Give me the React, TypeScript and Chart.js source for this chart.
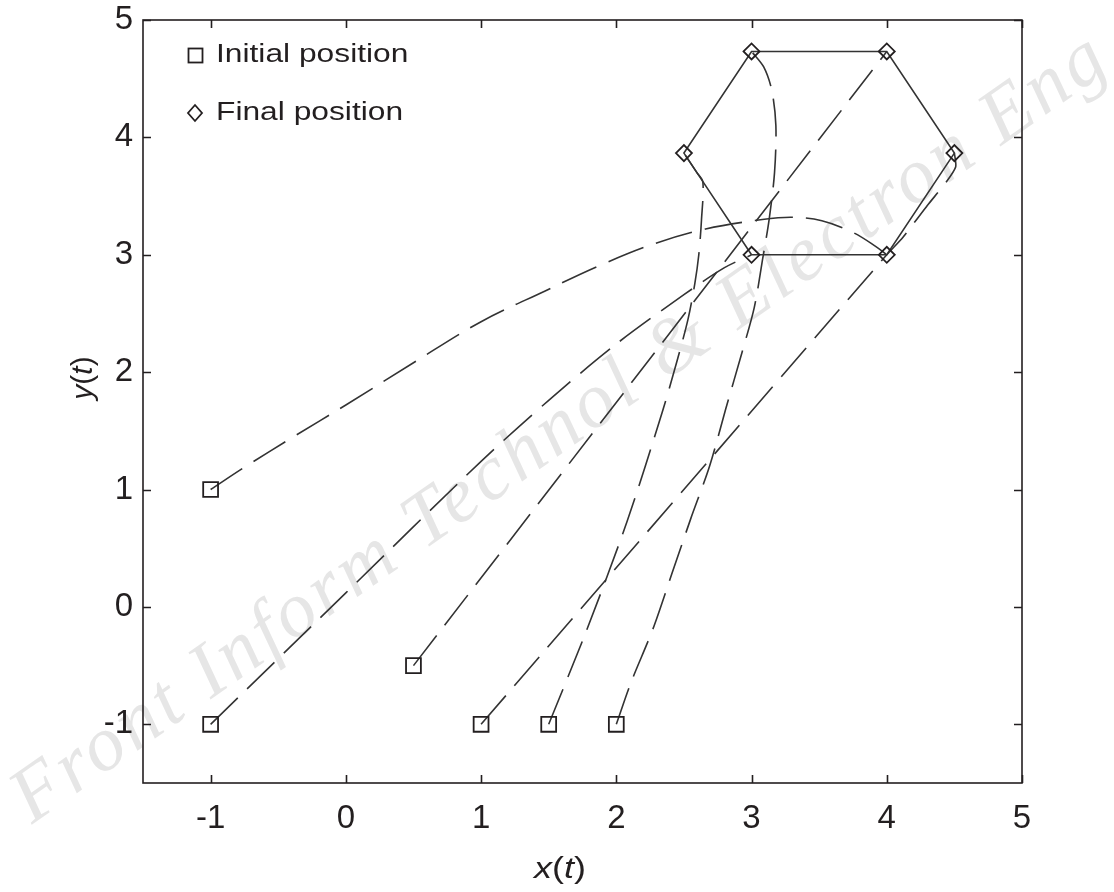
import React, { useEffect, useRef } from 'react';
import { Chart, registerables } from 'chart.js';

Chart.register(...registerables);

const W = 1114;
const H = 892;

// Initial positions of the six agents
const initialX = [-1, -1, 0.5, 1, 1.5, 2];
const initialY = [1, -1, -0.5, -1, -1, -1];

// Final (hexagon) positions
const finalX = [3, 4, 4.5, 4, 3, 2.5];
const finalY = [3, 3, 3.866, 4.732, 4.732, 3.866];

// Hexagon outline (closed)
const hexX = [3, 4, 4.5, 4, 3, 2.5, 3];
const hexY = [3, 3, 3.866, 4.732, 4.732, 3.866, 3];

// Trajectories
const traj1X = [-1, -0.75, -0.38, 0, 0.5, 1, 1.47, 1.86, 2.27, 2.66, 3.08, 3.3, 3.52, 3.75, 3.92, 4];
const traj1Y = [1, 1.19, 1.455, 1.72, 2.08, 2.43, 2.69, 2.9, 3.09, 3.22, 3.3, 3.32, 3.29, 3.19, 3.07, 3];

const traj2X = [-1, 0, 1, 1.5, 2, 2.5, 2.8, 3];
const traj2Y = [-1, 0.12, 1.24, 1.76, 2.24, 2.66, 2.89, 3];

const traj3X = [0.5, 4];
const traj3Y = [-0.5, 4.732];

const traj4X = [1, 4, 4.12, 4.3, 4.44, 4.51, 4.5];
const traj4Y = [-1, 3, 3.15, 3.42, 3.62, 3.75, 3.866];

const traj5X = [1.5, 1.78, 2.08, 2.34, 2.45, 2.53, 2.58, 2.61, 2.63, 2.64, 2.596, 2.5];
const traj5Y = [-1, -0.2, 0.73, 1.66, 2.1, 2.45, 2.75, 3.0, 3.3, 3.62, 3.7, 3.866];

const traj6X = [2, 2.11, 2.27, 2.41, 2.55, 2.69, 2.81, 2.93, 3.02, 3.08, 3.13, 3.17, 3.18, 3.15, 3.09, 3];
const traj6Y = [-1, -0.64, -0.19, 0.28, 0.75, 1.2, 1.69, 2.17, 2.55, 2.95, 3.3, 3.7, 4.1, 4.4, 4.6, 4.732];

const xTicks = [-1, 0, 1, 2, 3, 4, 5];
const yTicks = [-1, 0, 1, 2, 3, 4, 5];

const legendLabels = ['Initial position', 'Final position'];
const watermark = 'Front Inform Technol & Electron Eng';

const pts = (xs: number[], ys: number[]) => xs.map((x, i) => ({ x, y: ys[i] }));

export default function App() {
  const ref = useRef<HTMLCanvasElement>(null);

  useEffect(() => {
    const canvas = ref.current;
    if (!canvas) return;
    const ink = '#231f20';
    const lineCol = '#333333';
    const sans = '"Liberation Sans", Arial, Helvetica, sans-serif';
    const dash = [38, 13];

    const trajs: [number[], number[], number][] = [
      [traj1X, traj1Y, 0.35],
      [traj2X, traj2Y, 0.3],
      [traj3X, traj3Y, 0],
      [traj4X, traj4Y, 0.2],
      [traj5X, traj5Y, 0.3],
      [traj6X, traj6Y, 0.3],
    ];

    const drawMixed = (
      ctx: CanvasRenderingContext2D,
      parts: [string, boolean][],
      cx: number,
      cy: number,
      size: number,
      sx: number
    ) => {
      const fonts = parts.map(([, it]) => `${it ? 'italic ' : ''}${size}px ${sans}`);
      const widths = parts.map(([t], i) => {
        ctx.font = fonts[i];
        return ctx.measureText(t).width;
      });
      const total = widths.reduce((a, b) => a + b, 0);
      ctx.save();
      ctx.translate(cx, cy);
      ctx.scale(sx, 1);
      let x = -total / 2;
      ctx.textBaseline = 'middle';
      ctx.textAlign = 'left';
      parts.forEach(([t], i) => {
        ctx.font = fonts[i];
        ctx.fillText(t, x, 0);
        x += widths[i];
      });
      ctx.restore();
    };

    const overlay = {
      id: 'overlay',
      afterDraw(chart: any) {
        const { ctx, chartArea: a, scales } = chart;
        const xs = scales.x;
        const ys = scales.y;
        ctx.save();
        ctx.strokeStyle = ink;
        ctx.lineWidth = 1.6;
        ctx.setLineDash([]);
        ctx.strokeRect(a.left, a.top, a.right - a.left, a.bottom - a.top);
        const tl = 8;
        ctx.beginPath();
        xTicks.forEach((v) => {
          const p = Math.round(xs.getPixelForValue(v)) + 0.5;
          ctx.moveTo(p, a.bottom);
          ctx.lineTo(p, a.bottom - tl);
          ctx.moveTo(p, a.top);
          ctx.lineTo(p, a.top + tl);
        });
        yTicks.forEach((v) => {
          const p = Math.round(ys.getPixelForValue(v)) + 0.5;
          ctx.moveTo(a.left, p);
          ctx.lineTo(a.left + tl, p);
          ctx.moveTo(a.right, p);
          ctx.lineTo(a.right - tl, p);
        });
        ctx.stroke();

        // axis titles
        ctx.fillStyle = ink;
        drawMixed(ctx, [['x', true], ['(', false], ['t', true], [')', false]], 560, 870, 30, 1.2);
        ctx.save();
        ctx.translate(84, 378);
        ctx.rotate(-Math.PI / 2);
        drawMixed(ctx, [['y', true], ['(', false], ['t', true], [')', false]], 0, 0, 30, 1);
        ctx.restore();

        // legend
        ctx.lineWidth = 1.8;
        ctx.strokeStyle = ink;
        ctx.strokeRect(188.5, 48.5, 14, 14);
        ctx.beginPath();
        ctx.moveTo(195, 105);
        ctx.lineTo(202, 113);
        ctx.lineTo(195, 121);
        ctx.lineTo(188, 113);
        ctx.closePath();
        ctx.stroke();
        ctx.font = `25px ${sans}`;
        ctx.textBaseline = 'middle';
        ctx.textAlign = 'left';
        [55, 113].forEach((yy, i) => {
          ctx.save();
          ctx.translate(216, yy);
          ctx.scale(1.27, 1);
          ctx.fillText(legendLabels[i], 0, 0);
          ctx.restore();
        });
        ctx.restore();
      },
    };

    const datasets: any[] = [];
    datasets.push({
      label: 'Initial position',
      data: pts(initialX, initialY),
      showLine: false,
      pointStyle: 'rect',
      pointRadius: 10.5,
      pointBorderWidth: 1.8,
      pointBorderColor: ink,
      pointBackgroundColor: 'rgba(0,0,0,0)',
      order: 0,
    });
    datasets.push({
      label: 'Final position',
      data: pts(finalX, finalY),
      showLine: false,
      pointStyle: 'rectRot',
      pointRadius: 8,
      pointBorderWidth: 1.8,
      pointBorderColor: ink,
      pointBackgroundColor: 'rgba(0,0,0,0)',
      order: 1,
    });
    datasets.push({
      label: 'Formation',
      data: pts(hexX, hexY),
      showLine: true,
      borderColor: lineCol,
      borderWidth: 1.6,
      pointRadius: 0,
      tension: 0,
      order: 2,
    });
    trajs.forEach(([xs, ys, t], i) => {
      datasets.push({
        label: `Agent ${i + 1}`,
        data: pts(xs, ys),
        showLine: true,
        borderColor: lineCol,
        borderWidth: 1.6,
        borderDash: dash,
        pointRadius: 0,
        tension: t,
        order: 3 + i,
      });
    });

    const tickFont = { family: sans, size: 33 };

    const chart = new Chart(canvas, {
      type: 'scatter',
      data: { datasets },
      options: {
        responsive: false,
        animation: false,
        devicePixelRatio: 1,
        layout: { padding: { top: 20, right: 92, bottom: 0, left: 0 } },
        plugins: { legend: { display: false }, tooltip: { enabled: false } },
        events: [],
        scales: {
          x: {
            type: 'linear',
            min: -1.5,
            max: 5,
            grid: { display: false, drawTicks: false },
            border: { display: false },
            afterBuildTicks: (s: any) => {
              s.ticks = xTicks.map((v) => ({ value: v }));
            },
            afterFit: (s: any) => {
              s.height = 109;
              s.paddingLeft = 0;
              s.paddingRight = 0;
            },
            ticks: {
              font: tickFont,
              color: ink,
              padding: 16,
              maxRotation: 0,
              autoSkip: false,
              callback: (v: any) => String(v),
            },
          },
          y: {
            type: 'linear',
            min: -1.5,
            max: 5,
            grid: { display: false, drawTicks: false },
            border: { display: false },
            afterBuildTicks: (s: any) => {
              s.ticks = yTicks.map((v) => ({ value: v }));
            },
            afterFit: (s: any) => {
              s.width = 143;
              s.paddingTop = 0;
              s.paddingBottom = 0;
            },
            ticks: {
              font: tickFont,
              color: ink,
              padding: 10,
              autoSkip: false,
              callback: (v: any) => String(v),
            },
          },
        },
      } as any,
      plugins: [overlay],
    });
    return () => chart.destroy();
  }, []);

  return (
    <div
      style={{
        position: 'absolute',
        left: 0,
        top: 0,
        width: W,
        height: H,
        background: '#ffffff',
        overflow: 'hidden',
      }}
    >
      <div
        style={{
          position: 'absolute',
          left: 40,
          top: 756,
          height: 80,
          lineHeight: '80px',
          whiteSpace: 'nowrap',
          fontFamily: '"Liberation Serif", "Times New Roman", serif',
          fontStyle: 'italic',
          fontSize: 78,
          letterSpacing: 4,
          color: '#e6e6e6',
          transform: 'rotate(-35deg)',
          transformOrigin: '0 100%',
        }}
      >
        {watermark}
      </div>
      <canvas
        ref={ref}
        width={W}
        height={H}
        style={{ position: 'absolute', left: 0, top: 0, width: W, height: H, display: 'block' }}
      />
    </div>
  );
}
